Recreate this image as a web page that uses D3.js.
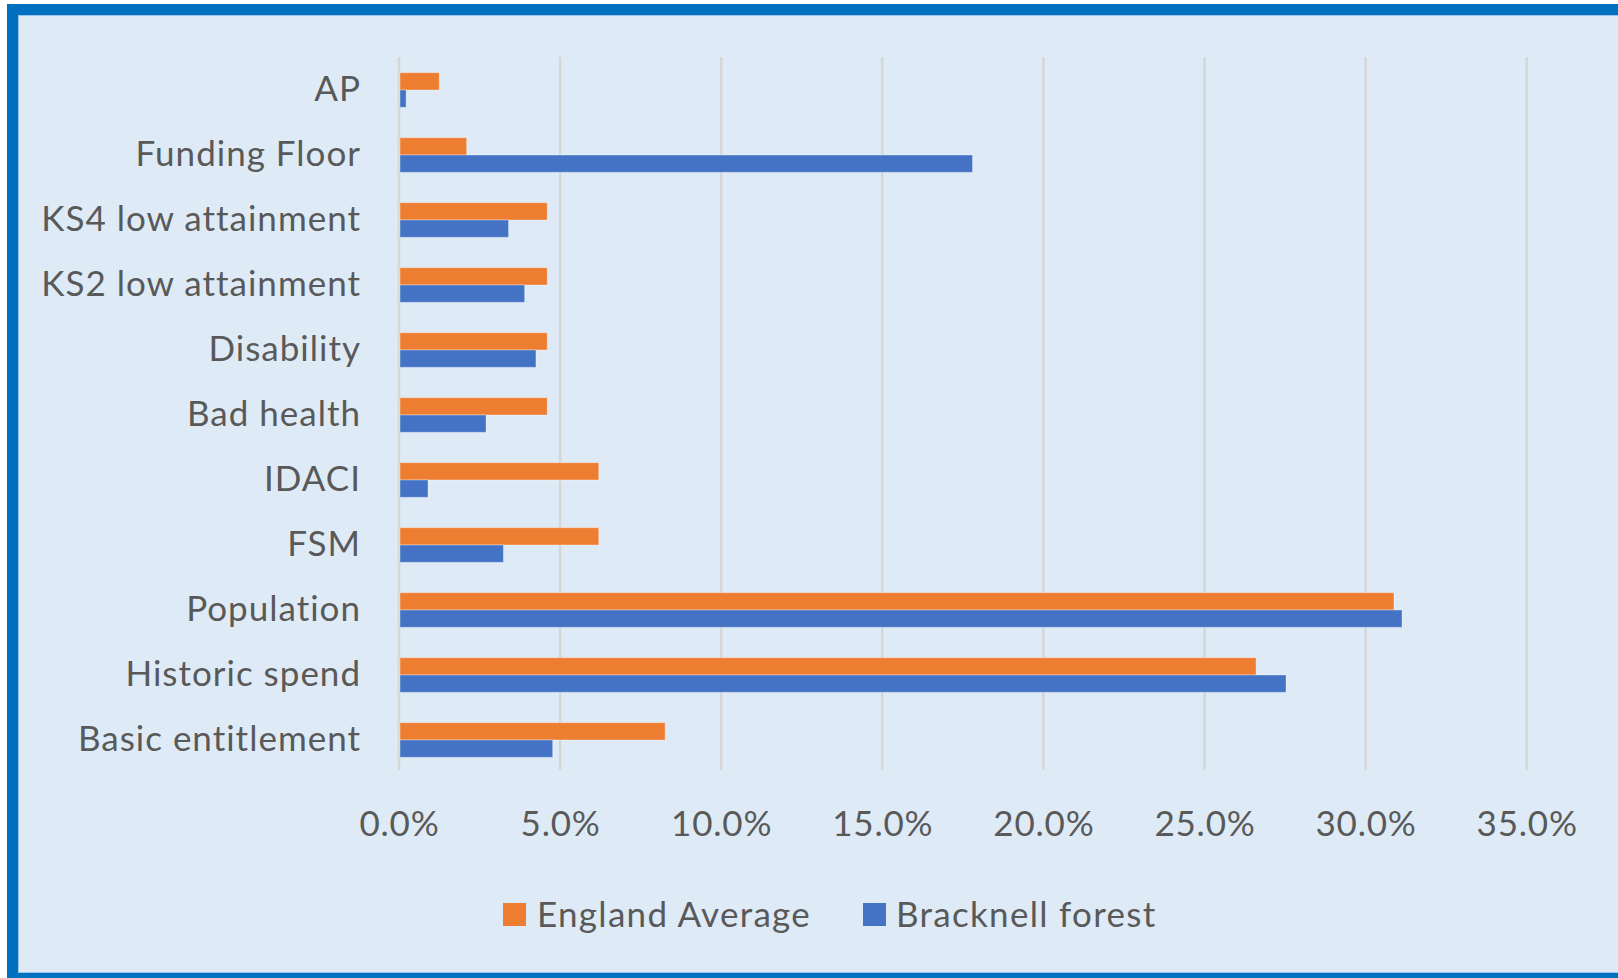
<!DOCTYPE html>
<html>
<head>
<meta charset="utf-8">
<script src="https://cdn.jsdelivr.net/npm/d3@7"></script>
<style>
  html, body { margin: 0; padding: 0; background: #ffffff; }
  svg { display: block; }
  text { font-family: Lato, "Open Sans", sans-serif; fill: #595959; }
</style>
</head>
<body>
<svg id="chart" width="1618" height="978"></svg>
<script>
// ---- data ----
const categories = ["AP", "Funding Floor", "KS4 low attainment", "KS2 low attainment", "Disability",
  "Bad health", "IDACI", "FSM", "Population", "Historic spend", "Basic entitlement"];
const seriesNames = ["England Average", "Bracknell forest"];
const englandAverage = [0.0125, 0.021, 0.046, 0.046, 0.046, 0.046, 0.062, 0.062, 0.3088, 0.266, 0.0826];
const bracknellForest = [0.0022, 0.178, 0.034, 0.039, 0.0425, 0.027, 0.009, 0.0324, 0.3113, 0.2753, 0.0477];
const xTicks = [0, 0.05, 0.10, 0.15, 0.20, 0.25, 0.30, 0.35];
const colors = ["#ed7d31", "#4472c4"];

const series = [englandAverage, bracknellForest];

const svg = d3.select("#chart");
const W = 1618, H = 978;
const FONT = "Lato, 'Open Sans', sans-serif";

// frame
svg.append("rect").attr("x", 0).attr("y", 0).attr("width", W).attr("height", H).attr("fill", "#ffffff");
svg.append("rect").attr("x", 12.5).attr("y", 9.5).attr("width", 1700).attr("height", 969)
  .attr("fill", "#deebf7").attr("stroke", "#0070c0").attr("stroke-width", 11);
svg.append("rect").attr("x", 18.5).attr("y", 15.5).attr("width", 1700).attr("height", 957)
  .attr("fill", "none").attr("stroke", "#9dc3e6").attr("stroke-width", 1);

// scales
const x = d3.scaleLinear().domain([0, 0.35]).range([399, 399 + 7 * 161.1]);
const y = d3.scaleBand().domain(categories).range([57.5, 772.5]).paddingInner(0.467).paddingOuter(0.2335);
const ySub = d3.scaleBand().domain(seriesNames).range([0, y.bandwidth()]);

// gridlines
svg.append("g").selectAll("line").data(xTicks).join("line")
  .attr("x1", d => x(d)).attr("x2", d => x(d))
  .attr("y1", 57).attr("y2", 770)
  .attr("stroke", "#d6d6d6").attr("stroke-width", 2.5);

// bars
const rows = categories.map((c, i) => ({ c, vals: series.map((s, k) => ({ name: seriesNames[k], v: s[i], k })) }));
const grp = svg.append("g").selectAll("g").data(rows).join("g")
  .attr("transform", d => `translate(0,${y(d.c)})`);
grp.selectAll("rect").data(d => d.vals).join("rect")
  .attr("x", x(0) + 1)
  .attr("y", d => ySub(d.name))
  .attr("width", d => x(d.v) - x(0) - 1)
  .attr("height", ySub.bandwidth())
  .attr("fill", d => colors[d.k])
  .attr("stroke", "rgba(255,255,255,0.35)")
  .attr("stroke-width", 1);

// category labels (y axis)
const yAxis = d3.axisLeft(y).tickSize(0).tickPadding(0);
const yg = svg.append("g").attr("transform", `translate(361,0)`).call(yAxis);
yg.select(".domain").remove();
yg.selectAll("text").attr("font-size", 35).style("font-family", FONT).style("letter-spacing", "1px").attr("fill", "#595959");

// x axis tick labels
const xAxis = d3.axisBottom(x).tickValues(xTicks).tickFormat(d3.format(".1%")).tickSize(0).tickPadding(0);
const xg = svg.append("g").attr("transform", `translate(0,811)`).call(xAxis);
xg.select(".domain").remove();
xg.selectAll("text").attr("font-size", 35).style("font-family", FONT).style("letter-spacing", "0.8px").attr("fill", "#595959");

// legend
const legendItems = [
  { name: seriesNames[0], color: colors[0], x: 503, tx: 537 },
  { name: seriesNames[1], color: colors[1], x: 863, tx: 896 }
];
const lg = svg.append("g").selectAll("g").data(legendItems).join("g");
lg.append("rect").attr("x", d => d.x).attr("y", 903).attr("width", 23).attr("height", 23).attr("fill", d => d.color);
lg.append("text").attr("x", d => d.tx).attr("y", 915).attr("dy", "0.35em")
  .attr("font-size", 35).style("letter-spacing", "1.3px").text(d => d.name);
</script>
</body>
</html>
